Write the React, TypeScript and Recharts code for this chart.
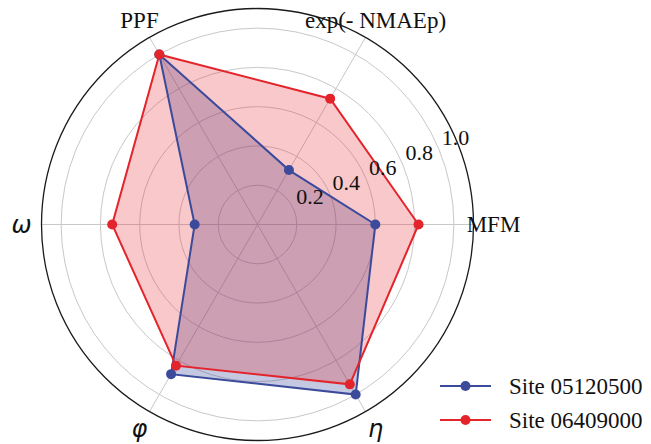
import React from "react";
import {
  RadarChart, Radar, PolarGrid, PolarAngleAxis, PolarRadiusAxis, Legend,
} from "recharts";

const CATEGORIES = ["MFM", "exp(- NMAEp)", "PPF", "ω", "φ", "η"];
const SITE_05120500 = [0.6, 0.32, 1.0, 0.32, 0.88, 1.0];
const SITE_06409000 = [0.82, 0.74, 1.0, 0.74, 0.83, 0.94];
const RADIUS_TICKS = [0.2, 0.4, 0.6, 0.8, 1.0];

const SERIES = [
  { key: "s1", name: "Site 05120500", color: "#3b4a9b", opacity: 0.3 },
  { key: "s2", name: "Site 06409000", color: "#e3242b", opacity: 0.25 },
];

const GREEK = new Set(["ω", "φ", "η"]);
const SERIF = "'Liberation Serif', 'Times New Roman', serif";

// recharts walks clockwise from startAngle; the figure goes counter-clockwise
// from MFM, so feed the categories in reverse cycle order.
const ORDER = [0, 5, 4, 3, 2, 1];
const data = ORDER.map((i) => ({
  axis: CATEGORIES[i],
  s1: SITE_05120500[i],
  s2: SITE_06409000[i],
}));

function AngleTick(props: any) {
  const { x, y, payload } = props;
  const greek = GREEK.has(payload.value);
  return (
    <text
      x={x}
      y={y}
      textAnchor="middle"
      dominantBaseline="central"
      fontFamily={greek ? "'DejaVu Sans', sans-serif" : SERIF}
      fontStyle={greek ? "italic" : "normal"}
      fontSize={greek ? 24 : 23}
      fill="#111"
    >
      {payload.value}
    </text>
  );
}

function RadiusTick(props: any) {
  const { x, y, payload } = props;
  return (
    <text
      x={x + 16}
      y={y - 13}
      textAnchor="middle"
      dominantBaseline="central"
      fontFamily={SERIF}
      fontSize={22}
      fill="#111"
    >
      {Number(payload.value).toFixed(1)}
    </text>
  );
}

function renderLegend() {
  return (
    <svg width={211} height={68} style={{ display: "block", overflow: "visible" }}>
      {SERIES.map((s, i) => {
        const y = 17 + i * 34;
        return (
          <g key={s.key}>
            <line x1={0} y1={y} x2={51} y2={y} stroke={s.color} strokeWidth={2} />
            <circle cx={25.5} cy={y} r={5} fill={s.color} />
            <text
              x={69}
              y={y}
              dominantBaseline="central"
              fontFamily={SERIF}
              fontSize={23}
              fill="#111"
            >
              {s.name}
            </text>
          </g>
        );
      })}
    </svg>
  );
}

export default function App() {
  return (
    <div style={{ position: "absolute", left: 0, top: 0, width: 651, height: 444, background: "#fff" }}>
      <RadarChart
        width={651}
        height={444}
        data={data}
        cx={257.5}
        cy={224.5}
        outerRadius={216}
        startAngle={0}
        endAngle={-360}
        margin={{ top: 0, right: 0, bottom: 0, left: 0 }}
      >
        <PolarGrid gridType="circle" stroke="#c8c8c8" strokeWidth={1} />
        <PolarAngleAxis
          dataKey="axis"
          tick={<AngleTick />}
          tickLine={false}
          tickSize={20}
          axisLineType="circle"
          axisLine={{ stroke: "#1a1a1a", strokeWidth: 1.3 }}
        />
        <PolarRadiusAxis
          type="number"
          angle={22}
          domain={[0, 1.1]}
          ticks={RADIUS_TICKS}
          tick={<RadiusTick />}
          axisLine={false}
          tickLine={false}
        />
        {/* fills first, outlines on top so the lines stay crisp */}
        {SERIES.map((s) => (
          <Radar
            key={s.key + "-fill"}
            dataKey={s.key}
            stroke="none"
            fill={s.color}
            fillOpacity={s.opacity}
            legendType="none"
            isAnimationActive={false}
          />
        ))}
        {SERIES.map((s) => (
          <Radar
            key={s.key}
            name={s.name}
            dataKey={s.key}
            stroke={s.color}
            strokeWidth={2}
            fill="none"
            dot={{ r: 5, fill: s.color, stroke: s.color, strokeWidth: 0, fillOpacity: 1 }}
            isAnimationActive={false}
          />
        ))}
        <Legend
          content={renderLegend}
          wrapperStyle={{ position: "absolute", left: 440, top: 369, width: 211, bottom: "auto" }}
        />
      </RadarChart>
    </div>
  );
}
